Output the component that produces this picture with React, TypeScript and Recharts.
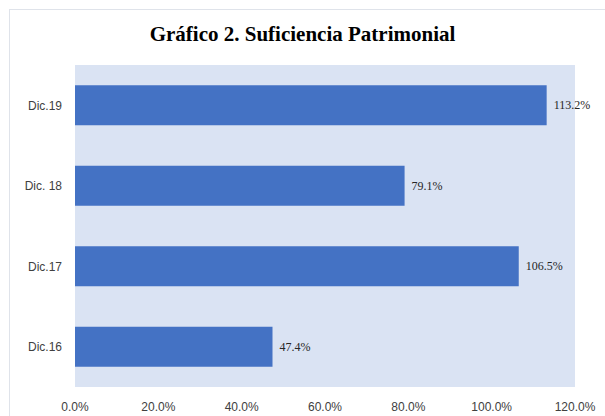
import { Bar, BarChart, CartesianGrid, LabelList, XAxis, YAxis } from "recharts";

const periods = ["Dic.19", "Dic. 18", "Dic.17", "Dic.16"];
const ratios = [113.2, 79.1, 106.5, 47.4];
const xTicks = [0, 20, 40, 60, 80, 100, 120];

const data = periods.map((period, i) => ({ period, ratio: ratios[i] }));

const pct = (v: number) => `${Number(v).toFixed(1)}%`;

export default function App() {
  return (
    <div style={{ position: "absolute", left: 0, top: 0, width: 605, height: 416, background: "#fff" }}>
      <div
        style={{
          position: "absolute",
          left: 9,
          top: 9,
          width: 596,
          height: 407,
          borderTop: "1px solid #dfe3ea",
          borderLeft: "1px solid #dfe3ea",
          boxSizing: "border-box",
        }}
      />
      <div
        style={{
          position: "absolute",
          left: 0,
          top: 22,
          width: 605,
          textAlign: "center",
          fontFamily: "'Liberation Serif', 'Times New Roman', serif",
          fontWeight: "bold",
          fontSize: 21,
          color: "#000",
        }}
      >
        Gráfico 2. Suficiencia Patrimonial
      </div>
      <div style={{ position: "absolute", left: 0, top: 0 }}>
        <BarChart
          width={605}
          height={416}
          data={data}
          layout="vertical"
          margin={{ top: 65, right: 30, bottom: 0, left: 0 }}
          barCategoryGap="25%"
        >
          <CartesianGrid horizontal={false} vertical={false} fill="#dae3f3" />
          <XAxis
            type="number"
            domain={[0, 120]}
            ticks={xTicks}
            tickFormatter={pct}
            axisLine={false}
            tickLine={false}
            tickMargin={9}
            height={29}
            tick={{ fill: "#404040", fontSize: 12, fontFamily: "'Liberation Sans', Arial, sans-serif" }}
          />
          <YAxis
            type="category"
            dataKey="period"
            width={75}
            axisLine={false}
            tickLine={false}
            tickMargin={7}
            tick={{ fill: "#404040", fontSize: 12, fontFamily: "'Liberation Sans', Arial, sans-serif" }}
          />
          <Bar dataKey="ratio" fill="#4472c4" isAnimationActive={false}>
            <LabelList
              dataKey="ratio"
              position="right"
              offset={7}
              formatter={(v: number) => pct(v)}
              style={{ fill: "#262626", fontSize: 12, fontFamily: "'Liberation Serif', 'Times New Roman', serif" }}
            />
          </Bar>
        </BarChart>
      </div>
    </div>
  );
}
